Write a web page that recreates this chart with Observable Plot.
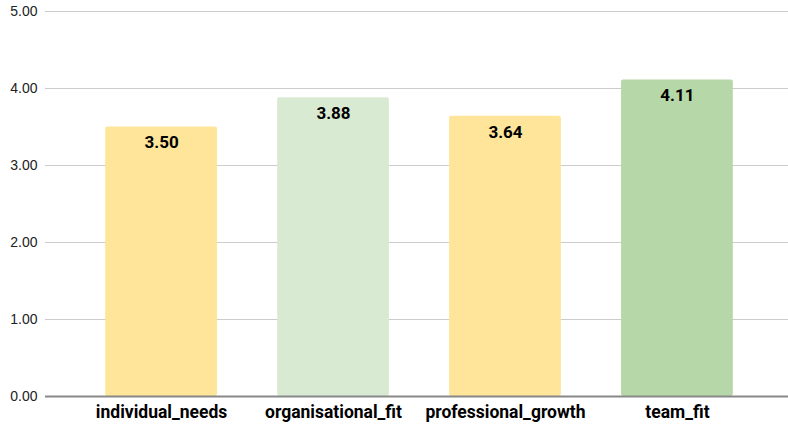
<!DOCTYPE html>
<html>
<head>
<meta charset="utf-8">
<script src="https://cdn.jsdelivr.net/npm/d3@7"></script>
<script src="https://cdn.jsdelivr.net/npm/@observablehq/plot@0.6"></script>
<style>
  html, body { margin: 0; padding: 0; background: #fff; }
  svg { display: block; }
</style>
</head>
<body>
<div id="chart"></div>
<script>
const categories = ["individual_needs", "organisational_fit", "professional_growth", "team_fit"];
const values = [3.50, 3.88, 3.64, 4.11];
const colors = ["#ffe599", "#d9ead3", "#ffe599", "#b6d7a8"];
const yTicks = [0, 1, 2, 3, 4, 5];

const data = categories.map((c, i) => ({category: c, value: values[i], color: colors[i]}));

const chart = Plot.plot({
  width: 788,
  height: 425,
  marginTop: 11,
  marginBottom: 29,
  marginLeft: 45,
  marginRight: 0,
  style: {fontFamily: "Roboto, sans-serif", background: "#fff"},
  x: {domain: categories, range: [45, 793], paddingInner: 0.35, paddingOuter: 0.35, round: false, label: null},
  y: {domain: [0, 5], label: null},
  marks: [
    Plot.ruleY(yTicks.slice(1), {stroke: "#cccccc", strokeWidth: 1}),
    Plot.barY(data, {x: "category", y: "value", fill: "color", rx: 2}),
    Plot.ruleY([0], {stroke: "#888888", strokeWidth: 2}),
    Plot.text(data, {x: "category", y: "value", text: d => d.value.toFixed(2), dy: 16, fontWeight: "bold", fontSize: 17, fill: "#000"}),
    Plot.axisY({ticks: yTicks, tickFormat: d => d.toFixed(2), tickSize: 0, tickPadding: 8, fontSize: 14, fill: "#222", label: null, fontFamily: "Liberation Sans, Arial, sans-serif"}),
    Plot.axisX({tickSize: 0, tickPadding: 9, fontSize: 17.5, fontWeight: "bold", fill: "#000", label: null})
  ]
});
document.getElementById("chart").appendChild(chart);
</script>
</body>
</html>
